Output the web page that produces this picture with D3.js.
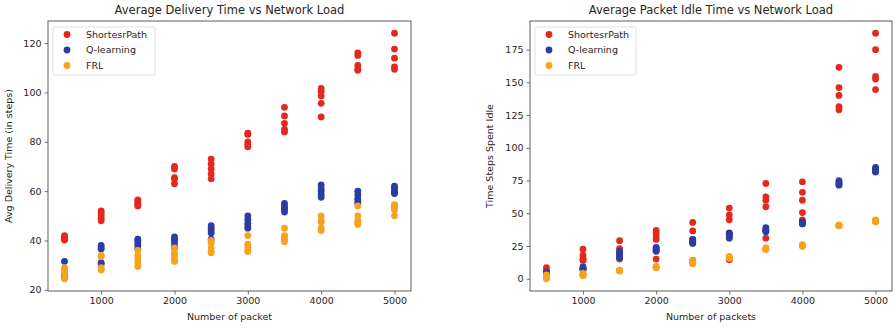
<!DOCTYPE html>
<html>
<head>
<meta charset="utf-8">
<script src="https://cdn.jsdelivr.net/npm/d3@7"></script>
<style>
  html, body { margin: 0; padding: 0; background: #fff; }
  svg { display: block; font-family: "DejaVu Sans", sans-serif; }
</style>
</head>
<body>
<svg id="chart" width="896" height="328"></svg>
<script>
// ---------- DATA ----------
const packets = [500, 1000, 1500, 2000, 2500, 3000, 3500, 4000, 4500, 5000];
const seriesNames = ["ShortesrPath", "Q-learning", "FRL"];
const seriesColors = ["#e3281f", "#2b3da3", "#f8a21d"];

// Left chart: Average Delivery Time (several runs per load)
const delivShortest = [
  [42, 41.5, 41, 40.5, 40.2],
  [52, 51, 50, 49, 48],
  [56.5, 56, 55, 54.5, 54],
  [70, 69, 65.5, 65, 63],
  [73, 71, 69, 67, 65],
  [83.5, 83, 80, 79, 78],
  [94, 90.5, 87.5, 85, 84],
  [101.7, 100.4, 98.6, 95.6, 90.1],
  [116, 115, 111, 109.5, 109],
  [124, 117.6, 113.9, 110.4, 109.4]
];
const delivQ = [
  [31.5, 26.5, 26, 25.5, 25],
  [38, 37, 36.5, 31, 30.5],
  [40.5, 40, 39, 38, 36.5],
  [41.5, 40.5, 39.5, 38, 37],
  [46, 45, 44, 43, 40.5],
  [50, 48.5, 47, 46, 45],
  [55, 54, 53, 52.5, 51.5],
  [62.5, 61, 60, 58.5, 57.5],
  [60, 58.5, 57, 56, 55],
  [62, 61, 60, 59.5, 59]
];
const delivFRL = [
  [29, 28, 27, 26, 24.5],
  [34, 33.5, 29, 28.5, 28],
  [36, 34, 32.5, 31, 29.5],
  [37, 35, 34, 32.5, 31.5],
  [40, 39, 37, 35.5, 35],
  [42, 38.5, 37.5, 36, 35.5],
  [45, 42, 41.5, 40.5, 39.5],
  [50, 48, 47.5, 45, 44],
  [54, 50, 48, 47, 46.5],
  [54.5, 54, 53.5, 52.5, 50]
];

// Right chart: Average Packet Idle Time
const idleShortest = [
  [8.5, 6, 5, 4, 4],
  [22.5, 18, 15, 14.5, 14],
  [29, 23, 20, 16, 15],
  [37, 35, 32, 30, 15],
  [43, 36.5, 30, 28, 14],
  [54, 48.7, 45, 34.7, 14.5],
  [72.8, 62.6, 60, 55, 31],
  [74, 66, 60, 50.5, 45],
  [161.5, 146, 140, 131.5, 129],
  [187.5, 175, 154.5, 152.5, 144.5]
];
const idleQ = [
  [5, 4, 3.5, 3, 3],
  [9, 8, 7.5, 7, 7],
  [21, 19, 18, 17, 16],
  [24, 23, 22, 21.5, 21],
  [30, 29, 28, 27.5, 27],
  [35, 34, 33, 32, 31],
  [39, 38, 37, 36, 36],
  [43.5, 43, 42.5, 42, 42],
  [75, 74, 73, 72, 71.5],
  [85, 84, 83, 82, 81.5]
];
const idleFRL = [
  [3, 1.5, 1, 0.5, 0],
  [4, 3.5, 3, 2.5, 2.5],
  [6.5, 6.3, 6, 6, 6],
  [9.5, 9, 8.5, 8.5, 8.5],
  [14, 13, 12, 11.5, 11.5],
  [17, 16.5, 16, 16, 15.7],
  [23.5, 23, 22.5, 22.5, 22.5],
  [26, 25.5, 25, 25, 25],
  [41, 41, 40.5, 40.5, 40.5],
  [45, 44.5, 44, 43.5, 43.5]
];

const charts = [
  {
    title: "Average Delivery Time vs Network Load",
    xLabel: "Number of packet",
    yLabel: "Avg Delivery Time (in steps)",
    series: [delivShortest, delivQ, delivFRL],
    yTicks: [20, 40, 60, 80, 100, 120],
    box: { left: 48, right: 411, top: 21, bottom: 291 },
    legend: { x: 53, y: 27, w: 102, h: 48 },
    yLabelX: 12
  },
  {
    title: "Average Packet Idle Time vs Network Load",
    xLabel: "Number of packets",
    yLabel: "Time Steps Spent Idle",
    series: [idleShortest, idleQ, idleFRL],
    yTicks: [0, 25, 50, 75, 100, 125, 150, 175],
    box: { left: 530, right: 892, top: 21, bottom: 291 },
    legend: { x: 535, y: 27, w: 101, h: 48 },
    yLabelX: 493
  }
];
const xTicks = [1000, 2000, 3000, 4000, 5000];

// ---------- DRAW ----------
const svg = d3.select("#chart");
const textColor = "#262626";
const frameColor = "#4d4d4d";

charts.forEach(cfg => {
  const b = cfg.box;
  const allY = cfg.series.flat(2);
  const yMin = d3.min(allY), yMax = d3.max(allY);
  const yPad = (yMax - yMin) * 0.05;
  const xMin = d3.min(packets), xMax = d3.max(packets);
  const xPad = (xMax - xMin) * 0.05;

  const x = d3.scaleLinear().domain([xMin - xPad, xMax + xPad]).range([b.left, b.right]);
  const y = d3.scaleLinear().domain([yMin - yPad, yMax + yPad]).range([b.bottom, b.top]);

  const g = svg.append("g");

  // points
  cfg.series.forEach((ser, si) => {
    const pts = [];
    ser.forEach((vals, xi) => vals.forEach(v => pts.push([packets[xi], v])));
    g.append("g").selectAll("circle").data(pts).join("circle")
      .attr("cx", d => x(d[0]))
      .attr("cy", d => y(d[1]))
      .attr("r", 3.4)
      .attr("fill", seriesColors[si]);
  });

  // axes
  const xAxis = d3.axisBottom(x).tickValues(xTicks).tickSize(3.5).tickPadding(3).tickFormat(d3.format("d"));
  const yAxis = d3.axisLeft(y).tickValues(cfg.yTicks).tickSize(3.5).tickPadding(3).tickFormat(d3.format("d"));

  const gx = g.append("g").attr("transform", `translate(0,${b.bottom})`).call(xAxis);
  const gy = g.append("g").attr("transform", `translate(${b.left},0)`).call(yAxis);
  [gx, gy].forEach(a => {
    a.select(".domain").remove();
    a.selectAll(".tick line").attr("stroke", frameColor).attr("stroke-width", 0.8);
    a.selectAll(".tick text").attr("fill", textColor).style("font-size", "9.5px").style("font-family", "DejaVu Sans, sans-serif");
  });

  // frame
  g.append("rect")
    .attr("x", b.left).attr("y", b.top)
    .attr("width", b.right - b.left).attr("height", b.bottom - b.top)
    .attr("fill", "none").attr("stroke", frameColor).attr("stroke-width", 0.9);

  // title
  g.append("text")
    .attr("x", (b.left + b.right) / 2).attr("y", b.top - 7)
    .attr("text-anchor", "middle").attr("fill", textColor)
    .style("font-size", "11.5px")
    .text(cfg.title);

  // x label
  g.append("text")
    .attr("x", (b.left + b.right) / 2).attr("y", 320)
    .attr("text-anchor", "middle").attr("fill", textColor)
    .style("font-size", "9.5px")
    .text(cfg.xLabel);

  // y label
  g.append("text")
    .attr("transform", `translate(${cfg.yLabelX},${(b.top + b.bottom) / 2}) rotate(-90)`)
    .attr("text-anchor", "middle").attr("fill", textColor)
    .style("font-size", "9.5px")
    .text(cfg.yLabel);

  // legend
  const L = cfg.legend;
  const lg = g.append("g");
  lg.append("rect")
    .attr("x", L.x).attr("y", L.y).attr("width", L.w).attr("height", L.h)
    .attr("rx", 2).attr("fill", "rgba(255,255,255,0.8)")
    .attr("stroke", "#d9d9d9").attr("stroke-width", 0.8);
  seriesNames.forEach((name, i) => {
    const cy = L.y + 7.5 + i * 15.5;
    lg.append("circle").attr("cx", L.x + 14).attr("cy", cy).attr("r", 3.4).attr("fill", seriesColors[i]);
    lg.append("text").attr("x", L.x + 33).attr("y", cy + 3.4)
      .attr("fill", textColor).style("font-size", "9.5px").text(name);
  });
});
</script>
</body>
</html>
